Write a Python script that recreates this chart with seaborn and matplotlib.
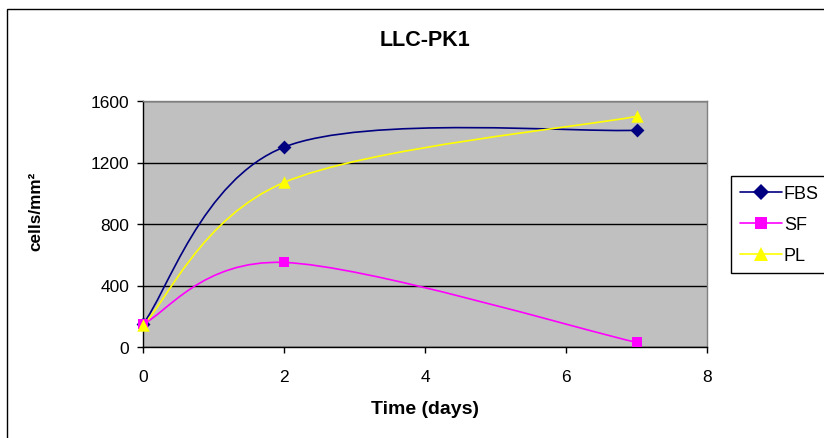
import numpy as np
import pandas as pd
import matplotlib
matplotlib.use("Agg")
import matplotlib.pyplot as plt
from matplotlib.path import Path
from matplotlib.patches import PathPatch, Rectangle
from matplotlib.lines import Line2D
import seaborn as sns

# ---- data ----
days = [0, 2, 7]
fbs = [150, 1300, 1410]
sf = [150, 550, 30]
pl = [140, 1070, 1500]
series_names = ["FBS", "SF", "PL"]
x_ticks = [0, 2, 4, 6, 8]
y_ticks = [0, 400, 800, 1200, 1600]

sns.set_style("white")
plt.rcParams["font.family"] = ["Liberation Sans", "DejaVu Sans"]
plt.rcParams["text.color"] = "black"
plt.rcParams["axes.labelcolor"] = "black"
plt.rcParams["xtick.color"] = "black"
plt.rcParams["ytick.color"] = "black"

colors = {"FBS": "#000080", "SF": "#FF00FF", "PL": "#FFFF00"}
markers = {"FBS": "D", "SF": "s", "PL": "^"}
msize = {"FBS": 50, "SF": 55, "PL": 80}

df = pd.DataFrame({"day": days * 3,
                   "value": fbs + sf + pl,
                   "series": [n for n in series_names for _ in days]})

fig = plt.figure(figsize=(8.24, 4.39), dpi=100)
fig.patch.set_facecolor("white")
ax = fig.add_axes([143 / 824, 1 - 348 / 439, (707 - 143) / 824, (348 - 102) / 439])
ax.set_facecolor("#C0C0C0")


def smooth_path(xs, ys):
    pts = np.column_stack([xs, ys]).astype(float)
    n = len(pts)
    verts = [pts[0]]
    codes = [Path.MOVETO]
    for i in range(n - 1):
        p0 = pts[max(i - 1, 0)]
        p1 = pts[i]
        p2 = pts[i + 1]
        p3 = pts[min(i + 2, n - 1)]
        c1 = p1 + (p2 - p0) / 6.0
        c2 = p2 - (p3 - p1) / 6.0
        verts += [c1, c2, p2]
        codes += [Path.CURVE4] * 3
    return Path(verts, codes)


for name in series_names:
    sub = df[df["series"] == name]
    path = smooth_path(sub["day"].values, sub["value"].values)
    ax.add_patch(PathPatch(path, fill=False, edgecolor=colors[name], lw=1.2,
                           zorder=3))
    sns.scatterplot(data=sub, x="day", y="value", marker=markers[name],
                    color=colors[name], s=msize[name], edgecolor=colors[name],
                    linewidth=0, ax=ax, zorder=4, legend=False, clip_on=False)

ax.set_xlim(0, 8)
ax.set_ylim(0, 1600)
ax.set_xticks(x_ticks)
ax.set_yticks(y_ticks)
ax.set_xticklabels([str(t) for t in x_ticks])
ax.set_yticklabels([str(t) for t in y_ticks])
ax.yaxis.grid(True, color="black", lw=1)
ax.xaxis.grid(False)
ax.set_axisbelow(True)
ax.tick_params(axis="both", direction="out", length=4, width=1, color="black",
               labelcolor="black", labelsize=12.5, bottom=True, left=True)
ax.tick_params(axis="x", pad=12)
ax.tick_params(axis="y", pad=6)
for side in ["left", "bottom"]:
    ax.spines[side].set_color("black")
    ax.spines[side].set_linewidth(1)
for side in ["top", "right"]:
    ax.spines[side].set_visible(True)
    ax.spines[side].set_color("#808080")
    ax.spines[side].set_linewidth(1)
ax.set_xlabel("")
ax.set_ylabel("")

fig.text(0.5 * (143 + 707) / 824, 1 - 40 / 439, "LLC-PK1", ha="center",
         va="center", fontsize=15.5, fontweight="bold", color="black")
fig.text(0.5 * (143 + 707) / 824, 1 - 410 / 439, "Time (days)", ha="center",
         va="center", fontsize=14, fontweight="bold", color="black")
fig.text(36 / 824, 1 - 211 / 439, "cells/mm²", ha="center", va="center",
         rotation=90, fontsize=12.3, fontweight="bold", color="black")

handles = [Line2D([], [], color=colors[n], marker=markers[n], lw=1.2,
                  markersize=8 if n != "PL" else 10, markeredgewidth=0)
           for n in series_names]
leg = fig.legend(handles, series_names, loc="upper left",
                 bbox_to_anchor=(731 / 824, 1 - 177 / 439), fontsize=13,
                 frameon=True, fancybox=False, shadow=False, framealpha=1,
                 edgecolor="black", handlelength=2.3, handletextpad=0.12,
                 labelspacing=0.78, borderpad=0.5, borderaxespad=0)
leg.get_frame().set_linewidth(1)
for t in leg.get_texts():
    t.set_color("black")

fig.patches.append(Rectangle((7 / 824, -0.2), 1.5, 1 - 10 / 439 + 0.2,
                             transform=fig.transFigure, fill=False,
                             edgecolor="black", lw=1))

fig.savefig("out.png", dpi=100)
